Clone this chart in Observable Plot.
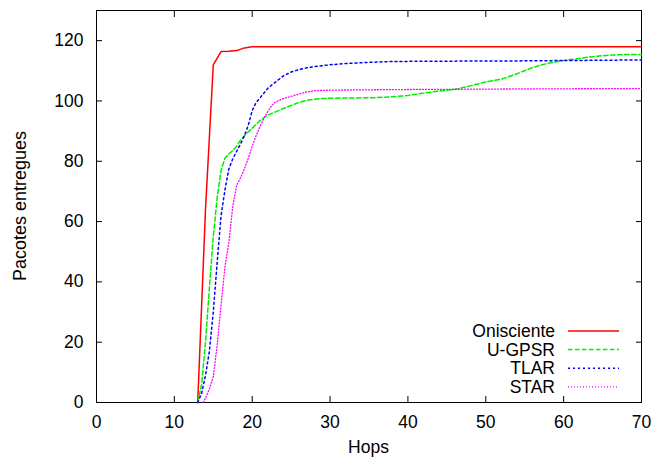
<!DOCTYPE html>
<html>
<head>
<meta charset="utf-8">
<script src="https://cdn.jsdelivr.net/npm/d3@7"></script>
<script src="https://cdn.jsdelivr.net/npm/@observablehq/plot@0.6"></script>
<style>
  body { margin: 0; background: #fff; }
  #chart { position: relative; width: 655px; height: 461px; }
</style>
</head>
<body>
<div id="chart"></div>
<script>
// ---- data ----
const seriesNames = ["Onisciente", "U-GPSR", "TLAR", "STAR"];

const hopsOnisciente = [13, 14, 15, 16, 17, 18, 19, 20, 30, 40, 50, 60, 70];
const pktsOnisciente = [0, 64, 112, 116.4, 116.5, 116.7, 117.6, 118, 118, 118, 118, 118, 118];

const hopsUGPSR = [13, 13.5, 14, 14.5, 15, 15.5, 16, 16.5, 17, 17.5, 18, 18.5, 19, 20, 21, 22, 23, 24, 25, 26, 27, 28, 29, 30, 33, 36, 38, 40, 42, 44, 46, 48, 50, 52, 54, 56, 58, 60, 62, 64, 66, 68, 70];
const pktsUGPSR = [0, 6, 20, 38, 55, 68, 77, 81, 82.5, 83.5, 85, 87, 88.5, 91, 93.5, 95.3, 96.4, 97.5, 98.5, 99.5, 100.2, 100.6, 100.8, 100.9, 101, 101.1, 101.4, 101.8, 102.6, 103.3, 103.8, 105, 106.3, 107.2, 109, 111.1, 112.5, 113.4, 114.1, 114.8, 115.2, 115.4, 115.4];

const hopsTLAR = [13, 13.5, 14, 14.5, 15, 15.5, 16, 16.5, 17, 17.5, 18, 18.5, 19, 19.5, 20, 20.5, 21, 22, 23, 24, 25, 26, 27, 28, 30, 32, 35, 38, 45, 55, 70];
const pktsTLAR = [0, 3, 9, 17, 30, 46.5, 62, 70.5, 77.5, 80.8, 83.3, 85.7, 88.5, 92, 96.8, 99.5, 101, 104.2, 106.3, 108.3, 109.6, 110.4, 111, 111.4, 112, 112.4, 112.8, 113.1, 113.2, 113.3, 113.6];

const hopsSTAR = [13.7, 14, 14.5, 15, 15.5, 16, 16.5, 17, 17.5, 18, 18.5, 19, 19.5, 20, 20.5, 21, 21.5, 22, 22.5, 23, 24, 25, 26, 27, 28, 30, 40, 55, 70];
const pktsSTAR = [0, 1.5, 4.5, 8.5, 19, 32.5, 45, 53, 65, 72, 74.5, 77.5, 81, 85, 88.5, 91.5, 94.3, 96.5, 98.5, 99.7, 100.8, 101.5, 102.3, 103, 103.4, 103.6, 103.8, 104, 104.1];

const xTicks = [0, 10, 20, 30, 40, 50, 60, 70];
const yTicks = [0, 20, 40, 60, 80, 100, 120];
const xTitle = "Hops";
const yTitle = "Pacotes entregues";

// ---- styles ----
const colors = ["#ff0000", "#00ee00", "#0000ff", "#ff00ff"];
const dashes = [null, "4.5,2.5", "2,3", "1,2"];
const widths = [1.5, 1.5, 1.5, 1.3];
const font = '"Liberation Sans", Arial, Helvetica, sans-serif';
const fs = "17.5px";

const hopsAll = [hopsOnisciente, hopsUGPSR, hopsTLAR, hopsSTAR];
const pktsAll = [pktsOnisciente, pktsUGPSR, pktsTLAR, pktsSTAR];
const tables = seriesNames.map((name, s) =>
  hopsAll[s].map((h, i) => ({series: name, hops: h, pkts: pktsAll[s][i]}))
);

const W = 655, H = 461;
const mL = 96, mR = 14, mT = 10, mB = 59;

const chart = Plot.plot({
  width: W, height: H,
  marginLeft: mL, marginRight: mR, marginTop: mT, marginBottom: mB,
  style: {fontFamily: font, fontSize: fs, background: "#fff", color: "#000", overflow: "visible"},
  x: {domain: [0, 70]},
  y: {domain: [0, 130]},
  marks: [
    Plot.axisX(xTicks, {anchor: "bottom", tickSize: -6, tickPadding: 19.5, label: null}),
    Plot.axisX(xTicks, {anchor: "top", tickSize: -6, tickFormat: () => "", label: null}),
    Plot.axisY(yTicks, {anchor: "left", tickSize: -6, tickPadding: 19, label: null}),
    Plot.axisY(yTicks, {anchor: "right", tickSize: -6, tickFormat: () => "", label: null}),
    Plot.frame({stroke: "#000", strokeWidth: 1}),
    ...tables.map((t, s) => Plot.line(t, {
      x: "hops", y: "pkts",
      stroke: colors[s], strokeWidth: widths[s],
      strokeDasharray: dashes[s] || undefined,
      curve: "linear"
    }))
  ]
});

document.getElementById("chart").appendChild(chart);

// ---- axis titles and legend (inside the plot, bottom-right) ----
const svg = d3.select(chart);
svg.append("text")
  .attr("transform", `translate(20,${(mT + H - mB) / 2}) rotate(-90)`)
  .attr("text-anchor", "middle").attr("dy", "0.35em")
  .style("font-family", font).style("font-size", "18px").attr("fill", "#000")
  .text(yTitle);
svg.append("text")
  .attr("x", (mL + W - mR) / 2).attr("y", 447)
  .attr("text-anchor", "middle").attr("dy", "0.35em")
  .style("font-family", font).style("font-size", fs).attr("fill", "#000")
  .text(xTitle);

const right = W - mR;
const legendTop = H - mB - 71;
const step = 18.6;
const lg = svg.append("g");
seriesNames.forEach((name, s) => {
  const yy = legendTop + s * step;
  lg.append("text")
    .attr("x", right - 86).attr("y", yy).attr("dy", "0.35em")
    .attr("text-anchor", "end")
    .style("font-family", font).style("font-size", fs).attr("fill", "#000")
    .text(name);
  lg.append("line")
    .attr("x1", right - 73).attr("x2", right - 22)
    .attr("y1", yy).attr("y2", yy)
    .attr("stroke", colors[s]).attr("stroke-width", widths[s])
    .attr("stroke-dasharray", dashes[s]);
});
</script>
</body>
</html>
